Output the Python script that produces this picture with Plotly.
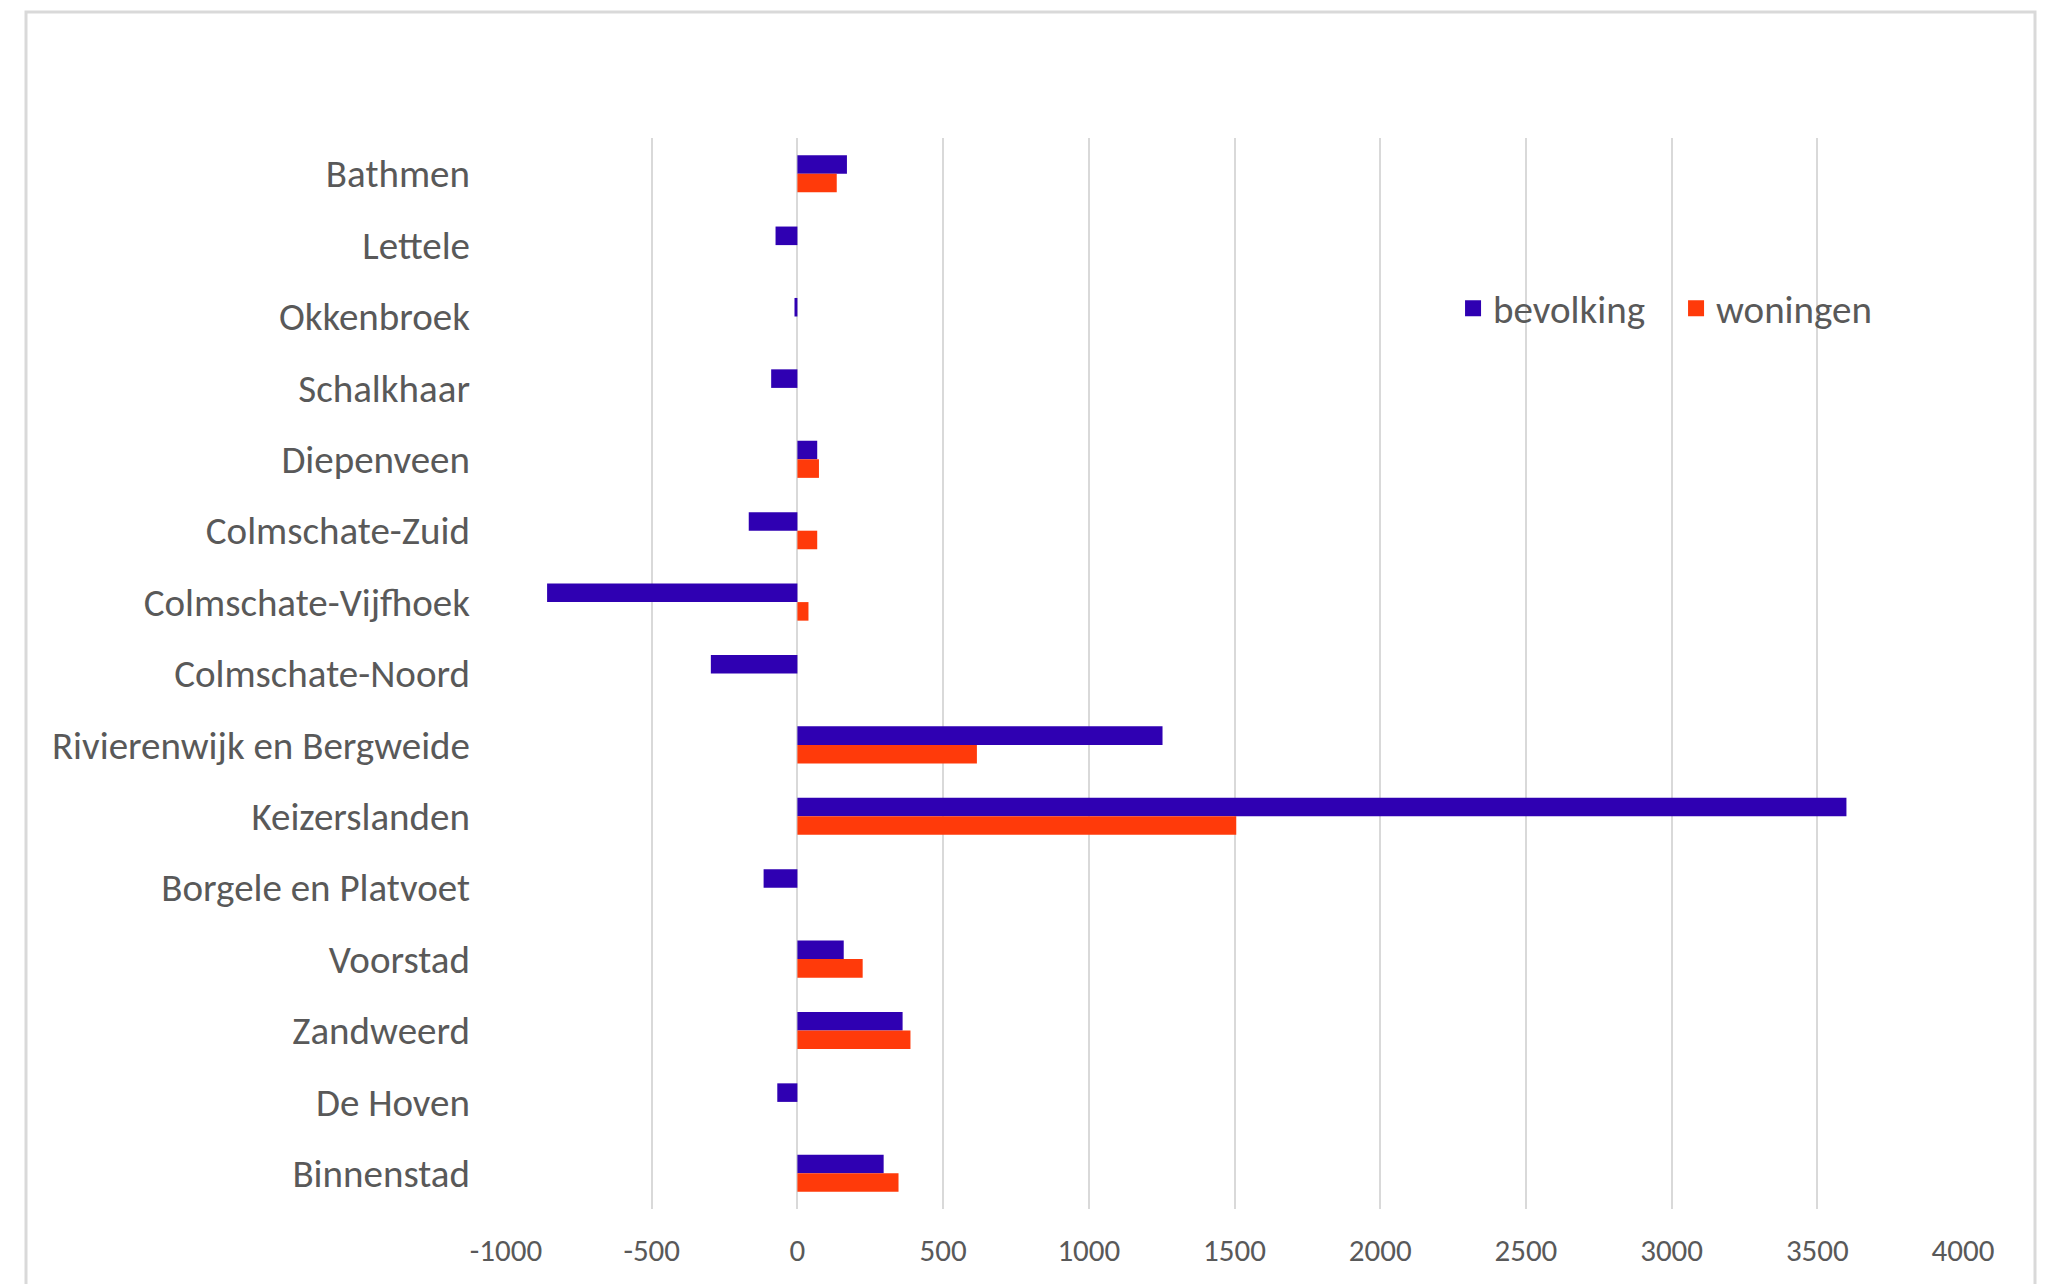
import plotly.graph_objects as go

categories = ["Bathmen", "Lettele", "Okkenbroek", "Schalkhaar", "Diepenveen",
              "Colmschate-Zuid", "Colmschate-Vijfhoek", "Colmschate-Noord",
              "Rivierenwijk en Bergweide", "Keizerslanden", "Borgele en Platvoet",
              "Voorstad", "Zandweerd", "De Hoven", "Binnenstad"]
bevolking = [170, -75, -10, -90, 68, -167, -859, -297, 1253, 3600, -116, 159, 361, -69, 296]
woningen = [135, 0, 0, 0, 74, 68, 38, 0, 616, 1506, 0, 224, 388, 0, 347]
tick_vals = [-1000, -500, 0, 500, 1000, 1500, 2000, 2500, 3000, 3500, 4000]

FONT = "Carlito, Lato, 'Liberation Sans Narrow', sans-serif"
GRAY = "#595959"
C_BEV = "#2F00B2"
C_WON = "#FF3A0A"

fig = go.Figure()
fig.add_trace(go.Bar(y=categories, x=bevolking, orientation="h", name="bevolking",
                     marker=dict(color=C_BEV, line=dict(width=0)), showlegend=False))
fig.add_trace(go.Bar(y=categories, x=woningen, orientation="h", name="woningen",
                     marker=dict(color=C_WON, line=dict(width=0)), showlegend=False))
# legend entries with larger square swatches
fig.add_trace(go.Scatter(x=[None], y=[None], mode="markers", name="bevolking",
                         marker=dict(symbol="square", size=16, color=C_BEV)))
fig.add_trace(go.Scatter(x=[None], y=[None], mode="markers", name="woningen",
                         marker=dict(symbol="square", size=16, color=C_WON)))

# page body has an 8px margin; compensate
OFF = 8
W, H = 2048 - OFF, 1284 - OFF
PL, PR, PT, PB = 506 - OFF, 1963 - OFF, 138 - OFF, 1209 - OFF
L, R, T, B = PL, W - PR, PT, H - PB

fig.update_layout(
    width=W, height=H,
    margin=dict(l=L, r=R, t=T, b=B),
    paper_bgcolor="white", plot_bgcolor="white",
    barmode="group", bargap=0.48, bargroupgap=0,
    font=dict(family=FONT, color=GRAY),
    xaxis=dict(range=[-1000, 4000], tickvals=tick_vals, ticktext=[str(v) for v in tick_vals],
               showgrid=True, gridcolor="#d9d9d9", gridwidth=2,
               zeroline=False, showline=False, ticks="",
               tickfont=dict(size=31, color=GRAY, family=FONT),
               ticklabelstandoff=20),
    yaxis=dict(autorange="reversed", showgrid=False, zeroline=False, showline=False,
               ticks="", tickfont=dict(size=39, color=GRAY, family=FONT),
               ticklabelstandoff=35),
    legend=dict(orientation="h", x=0.650, y=0.841, xanchor="left", yanchor="middle",
                font=dict(size=39, color=GRAY, family=FONT),
                entrywidth=178, entrywidthmode="pixels",
                bgcolor="rgba(0,0,0,0)", traceorder="normal"),
    showlegend=True,
)

# outer chart border
pw, ph = PR - PL, PB - PT
x0 = (26 - OFF - PL) / pw
x1 = (2035 - OFF - PL) / pw
y1 = (PB - (10 - OFF + 2)) / ph
y0 = (PB - (H + 20)) / ph
fig.add_shape(type="rect", xref="paper", yref="paper", x0=x0, x1=x1, y0=y0, y1=y1,
              line=dict(color="#d9d9d9", width=3), fillcolor="rgba(0,0,0,0)", layer="below")

fig.write_html("out.html")
